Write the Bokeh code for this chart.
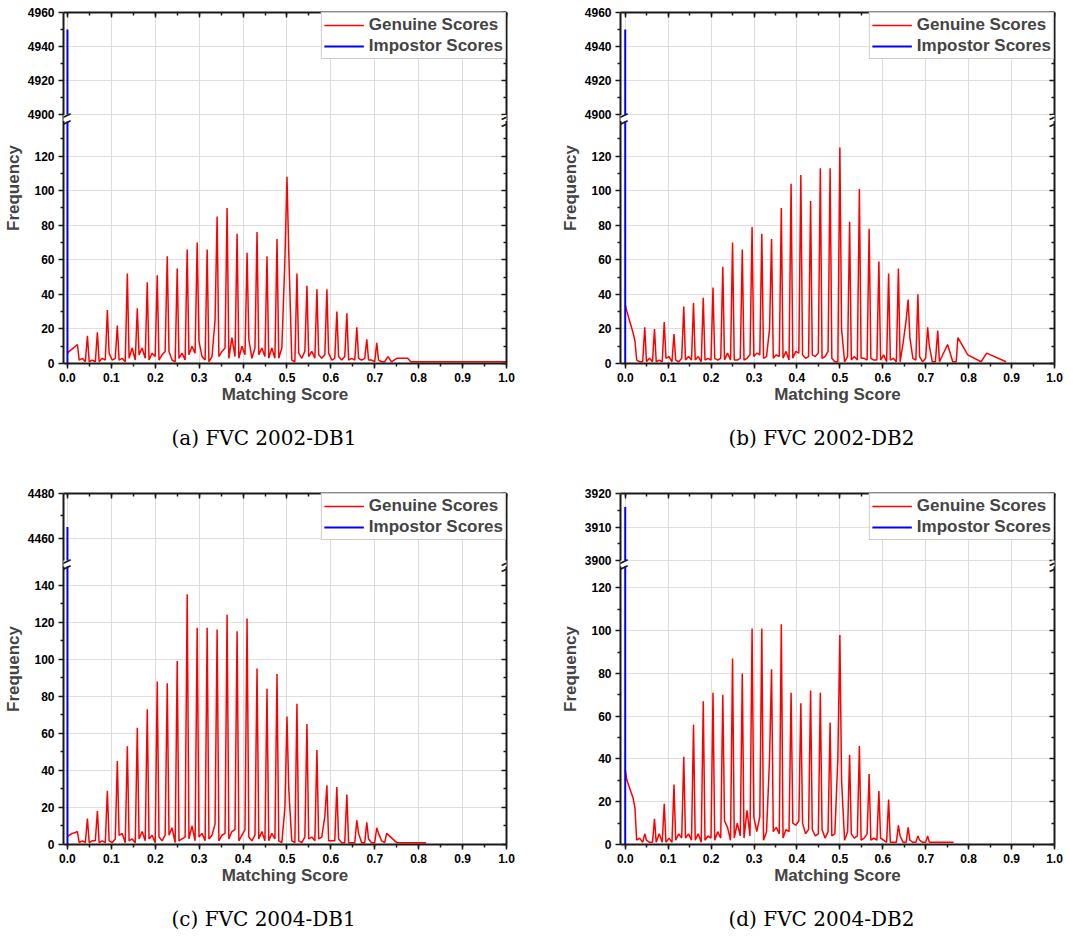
from bokeh.plotting import figure
from bokeh.models import (Range1d, LinearAxis, SingleIntervalTicker, FixedTicker,
                          NumeralTickFormatter, CustomJSTickFormatter, CustomJSTransform,
                          ColumnDataSource, Legend, LegendItem, Label, Title)
from bokeh.transform import transform
from bokeh.layouts import row, column
from bokeh.embed import file_html
from bokeh.resources import INLINE

# ---------------- data ----------------
# matching-score positions of the histogram bins (shared by all four panels)
score_x = [
    0.0, 0.004, 0.011, 0.018,
    0.0227, 0.0267, 0.0337, 0.0407,
    0.0455, 0.0495, 0.0565, 0.0635,
    0.0682, 0.0722, 0.0792, 0.0862,
    0.0909, 0.0949, 0.1019, 0.1089,
    0.1136, 0.1176, 0.1246, 0.1316,
    0.1364, 0.1404, 0.1474, 0.1544,
    0.1591, 0.1631, 0.1701, 0.1771,
    0.1818, 0.1858, 0.1928, 0.1998,
    0.2045, 0.2085, 0.2155, 0.2225,
    0.2273, 0.2313, 0.2383, 0.2453,
    0.25, 0.254, 0.261, 0.268,
    0.2727, 0.2767, 0.2837, 0.2907,
    0.2955, 0.2995, 0.3065, 0.3135,
    0.3182, 0.3222, 0.3292, 0.3362,
    0.3409, 0.3449, 0.3519, 0.3589,
    0.3636, 0.3676, 0.3746, 0.3816,
    0.3864, 0.3904, 0.3974, 0.4044,
    0.4091, 0.4131, 0.4201, 0.4271,
    0.4318, 0.4358, 0.4428, 0.4498,
    0.4545, 0.4585, 0.4655, 0.4725,
    0.4773, 0.4813, 0.4883, 0.4953,
    0.5, 0.504, 0.511, 0.518,
    0.5227, 0.5267, 0.5337, 0.5407,
    0.5455, 0.5495, 0.5565, 0.5635,
    0.5682, 0.5722, 0.5792, 0.5862,
    0.5909, 0.5949, 0.6019, 0.6089,
    0.6136, 0.6176, 0.6246, 0.6316,
    0.6364, 0.6404, 0.6474, 0.6544,
    0.6591, 0.6631, 0.6701, 0.6771,
    0.6818, 0.6858, 0.6928, 0.6998,
    0.7045, 0.7085, 0.7155, 0.7225,
]

# (a) FVC 2002-DB1 genuine score frequencies
genuine_a = [
    6, 7, 8.5, 10,   11, 2, 3, 1,    16, 1, 2, 1,    18, 1, 3, 2,
    31, 6, 2, 3,     22, 2, 3, 1,    52, 3, 9, 2,    32, 5, 9, 3,
    47, 2, 6, 4,     51, 2, 5, 7,    62, 7, 2, 1,    55, 3, 6, 2,
    66, 5, 10, 6,    70, 13, 4, 2,   66, 1, 4, 25,   85, 4, 7, 9,
    90, 3, 15, 4,    75, 3, 10, 5,   64, 14, 3, 9,   76, 5, 9, 4,
    62, 3, 9, 3,     72, 3, 9, 60,   108, 65, 2, 1,  52, 6, 3, 7,
    45, 4, 7, 3,     43, 5, 3, 5,    43, 6, 2, 3,    30, 4, 2, 4,
    29, 2, 3, 2,     21, 3, 2, 3,    14, 2, 2, 1,    12, 2, 1, 1,
]
tail_x_a = [0.73, 0.738, 0.75, 0.775, 0.782, 1.0]
tail_y_a = [4, 1, 3, 3, 1, 1]
impostor_a = 4950

# (b) FVC 2002-DB2
genuine_b = [
    34, 30, 24, 18,  13, 2, 1, 1,    21, 1, 3, 1,    20, 1, 2, 1,
    24, 3, 4, 1,     17, 2, 1, 3,    33, 2, 4, 2,    35, 2, 4, 1,
    38, 2, 3, 2,     44, 3, 2, 3,    56, 2, 6, 2,    70, 2, 2, 3,
    66, 2, 3, 5,     79, 4, 6, 5,    75, 3, 4, 20,   72, 3, 5, 4,
    90, 3, 7, 2,     104, 3, 7, 6,   109, 5, 3, 4,   94, 5, 4, 6,
    113, 3, 4, 7,    113, 3, 1, 1,   125, 20, 1, 4,  82, 2, 4, 2,
    101, 3, 3, 2,    78, 3, 2, 2,    59, 2, 5, 1,    52, 2, 3, 1,
    55, 1, 12, 25,   37, 15, 3, 2,   40, 4, 1, 3,    21, 10, 1, 1,
]
tail_x_b = [0.728, 0.732, 0.751, 0.763, 0.771, 0.775, 0.798, 0.829, 0.842, 0.887]
tail_y_b = [19, 1, 11, 1, 1, 15, 5, 1, 6, 1]
impostor_b = 4950

# (c) FVC 2004-DB1
genuine_c = [
    4, 5, 6, 6.5,    7, 1, 2, 1,     14, 1, 2, 2,    18, 1, 2, 1,
    29, 2, 1, 3,     45, 5, 6, 1,    53, 2, 3, 1,    63, 3, 7, 2,
    73, 3, 5, 1,     88, 4, 2, 5,    87, 5, 9, 1,    99, 2, 3, 4,
    135, 3, 10, 2,   117, 4, 6, 2,   117, 3, 5, 11,  116, 2, 5, 6,
    124, 3, 7, 8,    115, 2, 5, 8,   122, 4, 2, 5,   95, 3, 7, 2,
    84, 2, 6, 3,     92, 2, 1, 20,   69, 30, 2, 1,   76, 2, 1, 4,
    65, 3, 4, 2,     51, 3, 4, 15,   32, 2, 2, 2,    31, 3, 1, 1,
    27, 1, 1, 1,     13, 6, 1, 1,    12, 3, 1, 1,    9, 6, 2, 1,
]
tail_x_c = [0.727, 0.75, 0.817]
tail_y_c = [6, 1, 1]
impostor_c = 4465

# (d) FVC 2004-DB2
genuine_d = [
    35, 30, 26, 22,  17, 2, 3, 1,    5, 2, 1, 1,     12, 1, 5, 1,
    19, 1, 3, 1,     28, 2, 5, 3,    41, 3, 5, 2,    56, 2, 5, 1,
    67, 2, 4, 3,     71, 2, 6, 3,    70, 11, 8, 2,   87, 3, 10, 4,
    80, 3, 16, 4,    101, 13, 6, 13, 101, 2, 6, 40,  82, 6, 8, 5,
    103, 3, 7, 6,    71, 10, 9, 11,  66, 10, 5, 7,   72, 7, 4, 5,
    71, 7, 3, 6,     57, 4, 5, 40,   98, 30, 2, 6,   42, 5, 3, 4,
    46, 2, 3, 5,     33, 2, 3, 2,    25, 3, 2, 1,    21, 1, 1, 1,
    9, 4, 1, 1,      8, 2, 1, 1,     4, 2, 1, 1,     4, 1, 1, 1,
]
tail_x_d = [0.765]
tail_y_d = [1]
impostor_d = 3916

impostor_x = [0.0, 0.0]

captions = ["(a) FVC 2002-DB1", "(b) FVC 2002-DB2", "(c) FVC 2004-DB1", "(d) FVC 2004-DB2"]
# broken y axis: lower segment, upper segment
lower_tops = [140, 140, 150, 130]
lower_majors = [[0, 20, 40, 60, 80, 100, 120]] * 2 + [[0, 20, 40, 60, 80, 100, 120, 140],
                                                      [0, 20, 40, 60, 80, 100, 120]]
lower_minors = [[10, 30, 50, 70, 90, 110, 130]] * 2 + [[10, 30, 50, 70, 90, 110, 130],
                                                       [10, 30, 50, 70, 90, 110]]
upper_ranges = [(4900, 4960), (4900, 4960), (4450, 4480), (3900, 3920)]
upper_majors = [[4900, 4920, 4940, 4960], [4900, 4920, 4940, 4960], [4460, 4480],
                [3900, 3910, 3920]]
upper_minors = [[4910, 4930, 4950], [4910, 4930, 4950], [4470], [3905, 3915]]
legend_labels = ["Genuine Scores", "Impostor Scores"]
x_label = "Matching Score"
y_label = "Frequency"

# ---------------- style ----------------
SANS = "Liberation Sans"
SERIF = "DejaVu Serif"
AXC = "#1a1a1a"
GRIDC = "#dedede"
RED = "#ff0000"
BLUE = "#0000ff"


def style_axis(ax, inward, labels):
    ax.axis_line_color = AXC
    ax.axis_line_width = 2
    ax.major_tick_line_color = AXC
    ax.minor_tick_line_color = AXC
    ax.major_tick_line_width = 1.5
    ax.minor_tick_line_width = 1.5
    if inward:
        ax.major_tick_in, ax.major_tick_out = 5, 0
        ax.minor_tick_in, ax.minor_tick_out = 3, 0
    else:
        ax.major_tick_in, ax.major_tick_out = 0, 5
        ax.minor_tick_in, ax.minor_tick_out = 0, 3
    if labels:
        ax.major_label_text_font = SANS
        ax.major_label_text_font_style = "bold"
        ax.major_label_text_font_size = "12px"
        ax.major_label_text_color = "black"
        ax.major_label_standoff = 4
    else:
        ax.major_label_text_font_size = "1px"
        ax.major_label_text_color = None
        ax.major_label_standoff = 0


def make_panel(i, gen_y, tail_x, tail_y, imp_top, lay):
    L = lower_tops[i]
    u0, u1 = upper_ranges[i]
    k = lay["hl"] / L                      # px per unit in lower segment
    g = lay["gap"] / k                     # gap in lower units
    s = (lay["hu"] / (u1 - u0)) / k        # upper-segment compression
    y_end = L + g + (u1 - u0) * s

    def axis_pos(v):
        return v if v <= L else L + g + (v - u0) * s

    brk = CustomJSTransform(
        args=dict(L=L, g=g, u0=u0, s=s),
        func="return x <= L ? x : L + g + (x - u0) * s;",
        v_func="""
const out = new Array(xs.length);
for (let j = 0; j < xs.length; j++) {
  const v = xs[j];
  out[j] = v <= L ? v : L + g + (v - u0) * s;
}
return out;""")

    fw = lay["fw"]
    x0 = lay["x0"]
    p = figure(frame_width=fw, frame_height=lay["hl"] + lay["gap"] + lay["hu"],
               x_range=Range1d(x0, 1.0), y_range=Range1d(0, y_end),
               output_backend="svg", toolbar_location=None,
               min_border_top=lay["top"], min_border_bottom=lay["bottom"],
               min_border_left=lay["bl"], min_border_right=lay["br"])
    p.outline_line_color = None

    # x axes
    xt = SingleIntervalTicker(interval=0.1, num_minor_ticks=2)
    p.xaxis.ticker = xt
    p.xaxis.formatter = NumeralTickFormatter(format="0.0")
    style_axis(p.xaxis[0], False, True)
    p.xaxis.axis_label = x_label
    p.xaxis.axis_label_text_font = SANS
    p.xaxis.axis_label_text_font_style = "bold"
    p.xaxis.axis_label_text_font_size = "17px"
    p.xaxis.axis_label_standoff = 0
    top_ax = LinearAxis(ticker=xt)
    style_axis(top_ax, True, False)
    p.add_layout(top_ax, "above")

    # broken y axes
    maj_vals = lower_majors[i] + upper_majors[i]
    maj_pos = [axis_pos(v) for v in maj_vals]
    min_pos = [axis_pos(v) for v in lower_minors[i] + upper_minors[i]]
    yt = FixedTicker(ticks=maj_pos, minor_ticks=min_pos)
    p.yaxis.ticker = yt
    p.yaxis.formatter = CustomJSTickFormatter(
        args=dict(pos=maj_pos, txt=[str(v) for v in maj_vals]),
        code="""
for (let j = 0; j < pos.length; j++) {
  if (Math.abs(pos[j] - tick) < 1e-6) return txt[j];
}
return "";""")
    style_axis(p.yaxis[0], False, True)
    p.yaxis.axis_label = y_label
    p.yaxis.axis_label_text_font = SANS
    p.yaxis.axis_label_text_font_style = "bold"
    p.yaxis.axis_label_text_font_size = "17px"
    p.yaxis.axis_label_standoff = 2
    r_ax = LinearAxis(ticker=yt)
    style_axis(r_ax, True, False)
    p.add_layout(r_ax, "right")

    p.grid.grid_line_color = GRIDC
    p.grid.grid_line_width = 1

    # data
    gsrc = ColumnDataSource(dict(x=score_x + tail_x, y=gen_y + tail_y))
    isrc = ColumnDataSource(dict(x=impostor_x, y=[0, imp_top]))
    r_gen = p.line("x", transform("y", brk), source=gsrc, line_color=RED, line_width=1.5)
    r_imp = p.line("x", transform("y", brk), source=isrc, line_color=BLUE, line_width=2)

    # break: blank the gap, then the two slashes on each side
    y_lo, y_hi = axis_pos(L), axis_pos(u0)
    p.quad(left=x0, right=0.004, bottom=y_lo, top=y_hi, fill_color="white",
           line_color=None)
    for xb in (x0, 1.0):
        p.add_layout(Label(x=xb, y=(y_lo + y_hi) / 2, text="\u2003", text_font=SANS,
                           text_font_size="6px", text_align="center",
                           text_baseline="middle", background_fill_color="white",
                           text_color="white"))
        for yb in (y_lo, y_hi):
            p.add_layout(Label(x=xb, y=yb, text="\u2013", angle=0.45, text_font=SANS,
                               text_font_size="24px", text_align="center",
                               text_baseline="middle", text_color=AXC))

    leg = Legend(items=[LegendItem(label=legend_labels[0], renderers=[r_gen]),
                        LegendItem(label=legend_labels[1], renderers=[r_imp])],
                 location="top_right", margin=0, padding=2, spacing=1,
                 label_text_font=SANS, label_text_font_style="bold",
                 label_text_font_size="17px", label_standoff=5,
                 glyph_width=40, glyph_height=20, label_height=20,
                 border_line_color="#9a9a9a", border_line_width=1.5,
                 background_fill_color="white", background_fill_alpha=1.0)
    p.add_layout(leg)

    p.add_layout(Title(text=captions[i], align="left", text_font=SERIF,
                       text_font_style="normal", text_font_size="20px",
                       text_color="black", standoff=lay["ts"], offset=lay["co"]), "below")
    return p


lay_a = dict(fw=443, x0=-0.009, hu=102, gap=7, hl=242, bl=62, br=51, top=12, bottom=123,
             ts=35, co=108)
lay_b = dict(fw=434, x0=-0.011, hu=102, gap=7, hl=242, bl=62, br=12, top=12, bottom=123,
             ts=35, co=108)
lay_c = dict(fw=443, x0=-0.009, hu=67, gap=6, hl=278, bl=62, br=51, top=7, bottom=92,
             ts=34, co=108)
lay_d = dict(fw=434, x0=-0.011, hu=67, gap=6, hl=278, bl=62, br=12, top=7, bottom=92,
             ts=34, co=108)

pa = make_panel(0, genuine_a, tail_x_a, tail_y_a, impostor_a, lay_a)
pb = make_panel(1, genuine_b, tail_x_b, tail_y_b, impostor_b, lay_b)
pc = make_panel(2, genuine_c, tail_x_c, tail_y_c, impostor_c, lay_c)
pd = make_panel(3, genuine_d, tail_x_d, tail_y_d, impostor_d, lay_d)

p = column(row(pa, pb), row(pc, pd))

open("out.html", "w").write(file_html(p, INLINE))
